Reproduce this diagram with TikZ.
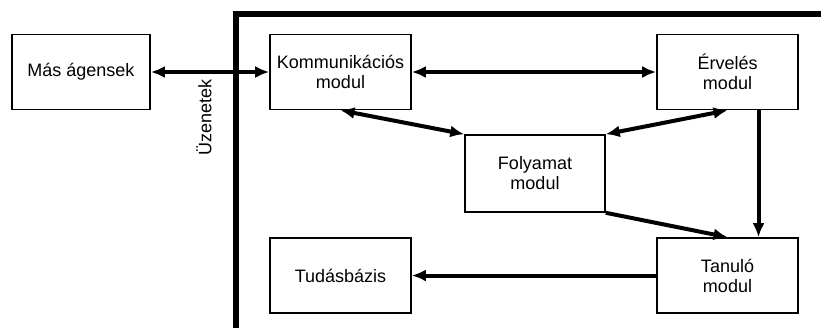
\documentclass[tikz,border=0pt]{standalone}
\usepackage{fontspec}
\setmainfont{Liberation Sans}
\usetikzlibrary{arrows.meta,calc}
\tikzset{
  modbox/.style={draw,line width=1.6pt,minimum width=141pt,minimum height=75pt,
    align=center,inner sep=0pt,font=\fontsize{18}{20}\selectfont},
  tip/.style={Latex[length=14pt,width=12pt]},
  conn/.style={line width=4pt,{Latex[length=14pt,width=12pt]}-{Latex[length=14pt,width=12pt]}},
  oneway/.style={line width=4pt,-{Latex[length=14pt,width=12pt]}},
  frame/.style={line width=6pt}
}
\begin{document}
\begin{tikzpicture}[x=1pt,y=-1pt]
\useasboundingbox[fill=white] (0,0) rectangle (821,327);
% agent boundary
\coordinate (fb) at (236,330);
\coordinate (fr) at (824,14);
\draw[frame] (fb) |- (fr);
% modules
\node[modbox,minimum width=138pt] (mas) at (81,72) {Más ágensek};
\node[modbox] (kom) at (340.5,72) {Kommunikációs\\modul};
\node[modbox] (erv) at (727.5,72) {Érvelés\\modul};
\node[modbox,minimum width=140pt,minimum height=77pt] (fol) at (535,173.5) {Folyamat\\modul};
\node[modbox] (tan) at (727.5,275.5) {Tanuló\\modul};
\node[modbox] (tud) at (340.5,275.5) {Tudásbázis};
% message label
\node[rotate=90,font=\fontsize{18}{20}\selectfont,inner sep=0pt] (uz) at (204,117.5) {Üzenetek};
% connectors
\draw[conn] (mas.east) -- (kom.west);
\draw[conn] (kom.east) -- (erv.west);
\draw[conn] (kom.south) -- (fol.north west);
\draw[conn] (fol.north east) -- (erv.south);
\draw[oneway] ([xshift=31pt]erv.south) -- ([xshift=31pt]tan.north);
\draw[oneway] (fol.south east) -- (tan.north);
\draw[oneway] (tan.west) -- (tud.east);
\end{tikzpicture}
\end{document}
